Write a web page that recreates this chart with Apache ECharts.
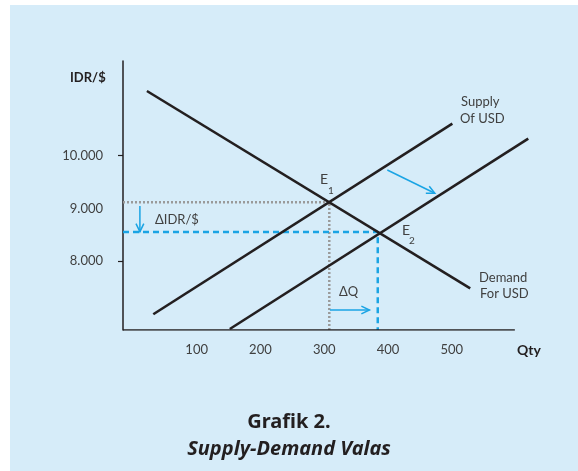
<!DOCTYPE html>
<html>
<head>
<meta charset="utf-8">
<script src="https://cdn.jsdelivr.net/npm/echarts@6/dist/echarts.min.js"></script>
<style>
  html, body { margin: 0; padding: 0; background: #fff; }
  #main { width: 578px; height: 471px; }
</style>
</head>
<body>
<div id="main"></div>
<script>
// quantity (USD) vs rate (IDR per $)
const demandQty = [22, 529];
const demandRate = [11229, 7481];
const supply1Qty = [32, 501];
const supply1Rate = [6988, 10608];
const supply2Qty = [152, 620];
const supply2Rate = [6708, 10323];

const e1 = [308, 9116];
const e2 = [384, 8550];

const xTicks = [100, 200, 300, 400, 500];
const yTicks = [8000, 9000, 10000];
const yTickMarks = [8000, 10000];

// arrows: [fromQty, fromRate, toQty, toRate]
const arrows = [
  [11, 9045, 11, 8557],
  [309, 7069, 371, 7069],
  [399, 9728, 473.5, 9286]
];

// drawn x-axis stops at 599, the plot area runs a bit further so supply 2 fits
const xMin = -15.5, xEnd = 599, xMax = 640;
const yMin = 6689, yMax = 11799;

const blue = '#1aa4e4';
const ink = '#231f20';
const grey = '#404040';

const chartDom = document.getElementById('main');
const myChart = echarts.init(chartDom);

const pairs = (xs, ys) => xs.map((x, i) => [x, ys[i]]);

const curveStyle = { color: ink, width: 2.6 };

myChart.setOption({
  animation: false,
  textStyle: { fontFamily: 'Lato' },
  graphic: [
    { type: 'rect', z: -10, shape: { x: 10, y: 5, width: 568, height: 466 }, style: { fill: '#d6ecf9' } },
    { type: 'text', left: 70, top: 71, style: { text: 'IDR/$', font: 'bold 13px Lato', fill: ink } },
    { type: 'text', left: 517, top: 343, style: { text: 'Qty', font: 'bold 14px Lato', fill: ink } },
    { type: 'text', left: 461, top: 95, style: { text: 'Supply', font: '13px Lato', fill: grey } },
    { type: 'text', left: 460, top: 112, style: { text: 'Of USD', font: '13px Lato', fill: grey } },
    { type: 'text', left: 479, top: 271, style: { text: 'Demand', font: '13px Lato', fill: grey } },
    { type: 'text', left: 480, top: 287, style: { text: 'For USD', font: '13px Lato', fill: grey } },
    { type: 'text', left: 320, top: 172, style: { text: 'E', font: '14px Lato', fill: grey } },
    { type: 'text', left: 328, top: 186, style: { text: '1', font: '10px Lato', fill: grey } },
    { type: 'text', left: 402, top: 223, style: { text: 'E', font: '14px Lato', fill: grey } },
    { type: 'text', left: 409, top: 236, style: { text: '2', font: '10px Lato', fill: grey } },
    { type: 'text', left: 155, top: 213, style: { text: '\u0394IDR/$', font: '13px Lato', fill: grey } },
    { type: 'text', left: 339, top: 285, style: { text: '\u0394Q', font: '13px Lato', fill: grey } },
    { type: 'text', left: 'center', top: 412, style: { text: 'Grafik 2.', font: 'bold 20px "Noto Sans"', fill: ink } },
    { type: 'text', left: 'center', top: 439, style: { text: 'Supply-Demand Valas', font: 'italic bold 20px "Noto Sans"', fill: ink } }
  ],
  grid: { left: 123, top: 61, width: 418, height: 269 },
  xAxis: {
    type: 'value',
    min: xMin,
    max: xMax,
    splitLine: { show: false },
    axisLine: { show: false },
    axisTick: { show: false },
    axisLabel: {
      customValues: xTicks,
      margin: 13,
      fontSize: 13,
      color: grey
    }
  },
  yAxis: {
    type: 'value',
    min: yMin,
    max: yMax,
    splitLine: { show: false },
    axisLine: { show: true, onZero: false, lineStyle: { color: ink, width: 1.5 } },
    axisTick: { show: true, customValues: yTickMarks, length: 5, lineStyle: { color: ink, width: 1.2 } },
    axisLabel: {
      customValues: yTicks,
      margin: 20,
      fontSize: 13,
      color: grey,
      formatter: v => (v / 1000).toFixed(0) + '.000'
    }
  },
  series: [
    {
      // x-axis line
      type: 'line',
      data: [[xMin, yMin], [xEnd, yMin]],
      symbol: 'none',
      lineStyle: { color: ink, width: 1.5 },
      z: 3
    },
    {
      type: 'line',
      data: [[xMin, e1[1]], e1, [e1[0], yMin]],
      symbol: 'none',
      lineStyle: { color: '#9a9a9a', width: 2.5, type: [2, 2] },
      z: 1
    },
    {
      type: 'line',
      data: [[xMin, e2[1]], e2, [e2[0], yMin]],
      symbol: 'none',
      lineStyle: { color: blue, width: 2.5, type: [6, 4] },
      z: 1
    },
    {
      type: 'line',
      data: pairs(demandQty, demandRate),
      symbol: 'none',
      lineStyle: curveStyle
    },
    {
      type: 'line',
      data: pairs(supply1Qty, supply1Rate),
      symbol: 'none',
      lineStyle: curveStyle
    },
    {
      type: 'line',
      data: pairs(supply2Qty, supply2Rate),
      symbol: 'none',
      lineStyle: curveStyle
    },
    {
      type: 'custom',
      data: arrows,
      renderItem: function (params, api) {
        const a = api.coord([api.value(0), api.value(1)]);
        const b = api.coord([api.value(2), api.value(3)]);
        const ang = Math.atan2(b[1] - a[1], b[0] - a[0]);
        const len = 9, spread = 0.45;
        const h1 = [b[0] - len * Math.cos(ang - spread), b[1] - len * Math.sin(ang - spread)];
        const h2 = [b[0] - len * Math.cos(ang + spread), b[1] - len * Math.sin(ang + spread)];
        return {
          type: 'group',
          children: [
            { type: 'line', shape: { x1: a[0], y1: a[1], x2: b[0], y2: b[1] }, style: { stroke: blue, lineWidth: 1.5 } },
            { type: 'polyline', shape: { points: [h1, b, h2] }, style: { stroke: blue, lineWidth: 1.5, fill: null } }
          ]
        };
      }
    }
  ]
});
</script>
</body>
</html>
